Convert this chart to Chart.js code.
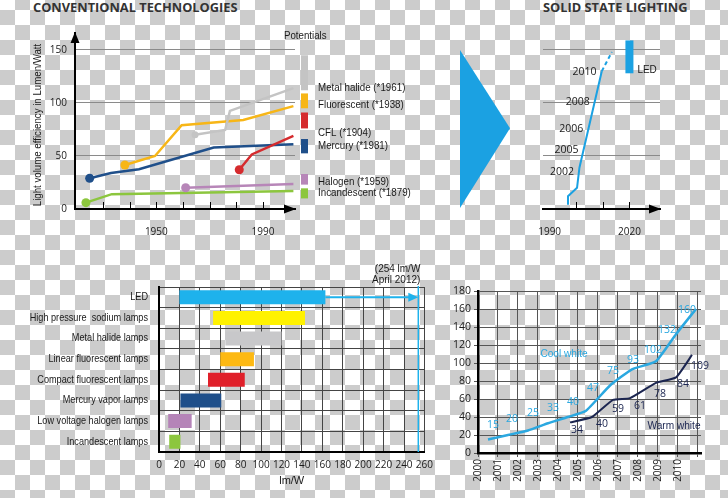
<!DOCTYPE html>
<html>
<head>
<meta charset="utf-8">
<script src="https://cdn.jsdelivr.net/npm/chart.js@4.4.1/dist/chart.umd.min.js"></script>
<style>
  body {
    margin: 0; width: 728px; height: 498px; overflow: hidden; position: relative;
    background: repeating-conic-gradient(#cccccc 0 25%, #ffffff 0 50%) 0 -5px / 30px 30px;
  }
  canvas { position: absolute; }
  .title { position: absolute; top: -1px; font: bold 12.8px/16px 'Open Sans', sans-serif; color: #333; white-space: nowrap; }
  #tri { position: absolute; left: 460px; top: 50px; width: 50px; height: 158px; background: #1ba1e2;
         clip-path: polygon(0 0, 100% 49.5%, 0 100%); }
</style>
</head>
<body>
<div class="title" style="left:33px">CONVENTIONAL TECHNOLOGIES</div>
<div class="title" style="left:543px">SOLID STATE LIGHTING</div>
<div id="tri"></div>
<canvas id="conv" width="420" height="240" style="left:0;top:0"></canvas>
<canvas id="ssl" width="308" height="240" style="left:420px;top:0"></canvas>
<canvas id="lamps" width="440" height="243" style="left:0;top:255px"></canvas>
<canvas id="white" width="288" height="218" style="left:440px;top:280px"></canvas>
<script>
// ---- conventional technologies (top left) ----
const mhYears = [1964.5, 1975.8, 1977.6, 2001.4];
const mhValues = [70, 74.5, 92.5, 114];
const fluYears = [1938.2, 1949.5, 1959.5, 1982.6, 2001.4];
const fluValues = [41.5, 50, 79, 84, 97];
const cflYears = [1981.1, 1985.8, 2001.4];
const cflValues = [37, 51.5, 69];
const merYears = [1925, 1933, 1943.5, 1971.5, 2001.4];
const merValues = [29, 34, 37.5, 58, 61];
const halYears = [1961, 2001.4];
const halValues = [20, 23.5];
const incYears = [1923.6, 1933.3, 2001.4];
const incValues = [6, 14, 17];

const convNames = ["Metal halide (*1961)", "Fluorescent (*1938)", "CFL (*1904)", "Mercury (*1981)", "Halogen (*1959)", "Incandescent (*1879)"];
const potentialLow = [112, 95, 76, 52.5, 23, 10];
const potentialHigh = [145, 109, 91, 66, 33, 19.5];
const convTicks = [0, 50, 100, 150];
const convTickYears = [1930, 1940, 1950, 1960, 1970, 1980, 1990];
const convYearLabels = [1950, 1990];

// ---- solid state lighting (top right) ----
const ledYears = [1996.9, 1996.9, 2000.3, 2001.2, 2009.6, 2013.4];
const ledValues = [4, 12, 20, 39, 130, 148];
const ledMilestones = ["2002", "2005", "2006", "2008", "2010"];
const ledMilestoneValues = [35, 56, 75, 101, 129];
const ledPotentialYear = 2020;
const ledPotential = [128, 159];
const sslTickYears = [2000, 2010, 2020];
const sslYearLabels = [1990, 2020];

// ---- lamp efficiency ranges (bottom left) ----
const lampNames = ["LED", "High pressure  sodium lamps", "Metal halide lamps", "Linear fluorescent lamps",
  "Compact fluorescent lamps", "Mercury vapor lamps", "Low voltage halogen lamps", "Incandescent lamps"];
const lampMin = [20, 53, 65, 60, 48, 21, 9, 10];
const lampMax = [163, 143, 120, 93, 84, 61, 32, 21];
const ledRecord = 254;

// ---- cool / warm white LED (bottom right) ----
const coolYears = [2000.5, 2001.5, 2002.5, 2003.5, 2004.5, 2005.4, 2006.6, 2007.7, 2008.9, 2009.9, 2010.9];
const coolValues = [15, 20, 25, 33, 40, 47, 75, 93, 102, 132, 160];
const warmYears = [2004.6, 2005.7, 2006.75, 2007.6, 2008.9, 2009.9, 2010.7];
const warmValues = [34, 40, 59, 61, 78, 84, 109];

const convColors = ["#c4c4c4", "#f7b617", "#d52b2e", "#1f4f8a", "#b786b8", "#8cc63e"];
const lampColors = ["#1eb2ec", "#fff200", "#c8c8ca", "#fdb913", "#e0202a", "#1f4f8a", "#b584b8", "#8cc63e"];
const blue = "#1ba1e2";
const sans = "'Liberation Sans', Arial, sans-serif";
const open = "'Open Sans', sans-serif";
const ink = "#1a1a1a";

const toPoints = (xs, ys) => xs.map((x, i) => ({ x, y: ys[i] }));
const base = {
  responsive: false, animation: false, events: [],
  plugins: { legend: { display: false }, tooltip: { enabled: false } }
};

// the original uses a condensed face, so squeeze the text horizontally
function squeeze(ctx, text, x, y, align, sx, rot) {
  ctx.save();
  ctx.translate(x, y);
  if (rot) ctx.rotate(rot);
  ctx.scale(sx, 1);
  ctx.textAlign = align;
  ctx.textBaseline = "middle";
  ctx.fillText(text, 0, 0);
  ctx.restore();
}

function arrowHead(ctx, x, y, dir) {
  ctx.save();
  ctx.fillStyle = "#000";
  ctx.beginPath();
  if (dir === "up") { ctx.moveTo(x, y); ctx.lineTo(x - 4.5, y + 11); ctx.lineTo(x + 4.5, y + 11); }
  else { ctx.moveTo(x, y); ctx.lineTo(x - 12, y - 4.5); ctx.lineTo(x - 12, y + 4.5); }
  ctx.fill();
  ctx.restore();
}

function innerTicks(chart, years) {
  const ctx = chart.ctx, xs = chart.scales.x, b = chart.chartArea.bottom;
  ctx.save();
  ctx.strokeStyle = "#000";
  ctx.lineWidth = 1;
  years.forEach(yr => {
    const x = Math.round(xs.getPixelForValue(yr)) + 0.5;
    ctx.beginPath(); ctx.moveTo(x, b); ctx.lineTo(x, b - 7); ctx.stroke();
  });
  ctx.restore();
}

const convSeries = [
  [mhYears, mhValues], [fluYears, fluValues], [cflYears, cflValues],
  [merYears, merValues], [halYears, halValues], [incYears, incValues]
];
// small vertical nudges (px) so the end labels don't collide
const convLabelNudge = [0, -1, -3, 1.5, -2, 2.5];

const convDecor = {
  id: "convDecor",
  afterDraw(chart) {
    const ctx = chart.ctx, a = chart.chartArea, ys = chart.scales.y;
    innerTicks(chart, convTickYears);
    arrowHead(ctx, a.left, a.top - 1, "up");
    arrowHead(ctx, a.right + 1, a.bottom, "right");
    ctx.save();
    ctx.font = "10.5px " + sans;
    convNames.forEach((name, i) => {
      const top = ys.getPixelForValue(potentialHigh[i]);
      const bot = ys.getPixelForValue(potentialLow[i]);
      ctx.fillStyle = convColors[i];
      ctx.fillRect(a.right + 6, top, 7, bot - top);
      const vals = convSeries[i][1];
      ctx.fillStyle = ink;
      squeeze(ctx, name, a.right + 23, ys.getPixelForValue(vals[vals.length - 1]) + convLabelNudge[i], "left", 0.93);
    });
    ctx.font = "10px " + sans;
    squeeze(ctx, "Potentials", a.right - 11, a.top + 3, "left", 0.97);
    ctx.font = "11px " + sans;
    squeeze(ctx, "Light volume efficiency in Lumen/Watt", 38, (a.top + a.bottom) / 2 + 4, "center", 0.88, -Math.PI / 2);
    ctx.restore();
  }
};

new Chart(document.getElementById("conv"), {
  type: "line",
  data: {
    datasets: convSeries.map(([xs, vs], i) => ({
      data: toPoints(xs, vs),
      borderColor: convColors[i],
      backgroundColor: convColors[i],
      borderWidth: 2.5,
      pointRadius: c => c.dataIndex === 0 ? (i === 0 ? 3.5 : 4.5) : 0,
      pointBorderWidth: 0
    }))
  },
  options: {
    ...base,
    layout: { padding: { left: 30, right: 125, top: 33, bottom: 0 } },
    scales: {
      x: {
        type: "linear", min: 1919.5, max: 2002,
        grid: { display: false },
        border: { color: "#000", width: 2 },
        ticks: {
          stepSize: 10, includeBounds: false, autoSkip: false, maxRotation: 0, padding: 9,
          color: ink, font: { family: open, size: 10 },
          callback: v => convYearLabels.includes(v) ? String(v) : ""
        },
        afterFit: s => { s.height = 31; }
      },
      y: {
        min: 0, max: 166,
        grid: { color: "#8a8a8a", lineWidth: 1, drawTicks: false },
        border: { color: "#000", width: 2 },
        afterBuildTicks: s => { s.ticks = convTicks.map(v => ({ value: v })); },
        ticks: { padding: 8, color: ink, font: { family: open, size: 10 } },
        afterFit: s => { s.width = 45; }
      }
    }
  },
  plugins: [convDecor]
});

// ---- solid state lighting ----
const sslDecor = {
  id: "sslDecor",
  afterDraw(chart) {
    const ctx = chart.ctx, a = chart.chartArea, xs = chart.scales.x, ys = chart.scales.y;
    innerTicks(chart, sslTickYears);
    arrowHead(ctx, a.right + 1, a.bottom, "right");
    const px = xs.getPixelForValue(ledPotentialYear);
    const top = ys.getPixelForValue(ledPotential[1]), bot = ys.getPixelForValue(ledPotential[0]);
    ctx.save();
    ctx.fillStyle = blue;
    ctx.fillRect(px - 4, top, 8, bot - top);
    ctx.fillStyle = ink;
    ctx.font = "10.5px " + sans;
    squeeze(ctx, "LED", px + 8, bot - 3, "left", 0.95);
    // year marks along the LED curve
    const pts = chart.getDatasetMeta(0).data;
    ctx.textAlign = "right";
    ctx.textBaseline = "middle";
    ctx.font = "10.5px " + open;
    ledMilestones.forEach((lbl, i) => {
      const y = ys.getPixelForValue(ledMilestoneValues[i]);
      let x = pts[0].x;
      for (let k = 1; k < pts.length; k++) {
        const p = pts[k - 1], q = pts[k];
        if (y <= p.y && y >= q.y) { x = p.x + (q.x - p.x) * (p.y - y) / (p.y - q.y); break; }
      }
      ctx.fillText(lbl, x - 5, y);
    });
    ctx.restore();
  }
};

new Chart(document.getElementById("ssl"), {
  type: "line",
  data: {
    datasets: [{
      data: toPoints(ledYears, ledValues),
      borderColor: blue, borderWidth: 2, pointRadius: 0,
      segment: { borderDash: c => c.p1DataIndex === ledValues.length - 1 ? [4, 3] : undefined }
    }]
  },
  options: {
    ...base,
    layout: { padding: { left: 123, right: 68, top: 33, bottom: 0 } },
    scales: {
      x: {
        type: "linear", min: 1987.5, max: 2031.5,
        grid: { display: false },
        border: { color: "#000", width: 2 },
        ticks: {
          stepSize: 10, includeBounds: false, autoSkip: false, maxRotation: 0, padding: 9,
          color: ink, font: { family: open, size: 10 },
          callback: v => sslYearLabels.includes(v) ? String(v) : ""
        },
        afterFit: s => { s.height = 31; }
      },
      y: {
        min: 0, max: 166,
        grid: { color: "#8a8a8a", lineWidth: 1, drawTicks: false },
        border: { display: false },
        afterBuildTicks: s => { s.ticks = convTicks.slice(1).map(v => ({ value: v })); },
        ticks: { display: false },
        afterFit: s => { s.width = 0; }
      }
    }
  },
  plugins: [sslDecor]
});

// ---- lamp efficiency ranges ----
const lampDecor = {
  id: "lampDecor",
  afterDatasetsDraw(chart) {
    const ctx = chart.ctx, a = chart.chartArea, xs = chart.scales.x, ys = chart.scales.y;
    const bar = chart.getDatasetMeta(0).data[0];
    const rx = xs.getPixelForValue(ledRecord);
    ctx.save();
    ctx.strokeStyle = "#1eb2ec";
    ctx.fillStyle = "#1eb2ec";
    ctx.lineWidth = 1.5;
    ctx.beginPath(); ctx.moveTo(rx, a.top - 1); ctx.lineTo(rx, a.bottom); ctx.stroke();
    ctx.lineWidth = 2;
    ctx.beginPath(); ctx.moveTo(bar.x, bar.y); ctx.lineTo(rx - 9, bar.y); ctx.stroke();
    ctx.beginPath(); ctx.moveTo(rx, bar.y); ctx.lineTo(rx - 10, bar.y - 4.5); ctx.lineTo(rx - 10, bar.y + 4.5); ctx.fill();
    ctx.fillStyle = ink;
    ctx.font = "10.5px " + sans;
    squeeze(ctx, "(" + ledRecord + " lm/W", rx + 2, a.top - 18, "right", 0.95);
    squeeze(ctx, "April 2012)", rx + 2, a.top - 7, "right", 0.95);
    // category names, squeezed like the condensed original
    lampNames.forEach((name, i) => squeeze(ctx, name, a.left - 11, ys.getPixelForValue(i), "right", 0.87));
    ctx.restore();
  }
};

new Chart(document.getElementById("lamps"), {
  type: "bar",
  data: {
    labels: lampNames,
    datasets: [{
      data: lampMin.map((m, i) => [m, lampMax[i]]),
      backgroundColor: lampColors,
      borderWidth: 0, borderSkipped: false,
      categoryPercentage: 1, barPercentage: 0.68
    }]
  },
  options: {
    ...base,
    indexAxis: "y",
    layout: { padding: { left: 0, right: 15, top: 32, bottom: 10 } },
    scales: {
      x: {
        min: 0, max: 260,
        grid: { color: "#444", lineWidth: 1, drawTicks: false },
        border: { color: "#000", width: 2 },
        ticks: { stepSize: 20, padding: 7, maxRotation: 0, autoSkip: false, color: ink, font: { family: open, size: 10 } },
        title: { display: true, text: "lm/W", color: ink, font: { family: sans, size: 11 }, padding: 0 },
        afterFit: s => { s.height = 36; }
      },
      y: {
        grid: { color: "#444", lineWidth: 1, drawTicks: false },
        border: { color: "#000", width: 2 },
        ticks: { display: false },
        afterFit: s => { s.width = 159; }
      }
    }
  },
  plugins: [lampDecor]
});

// ---- cool / warm white ----
// where each value label sits relative to its point (px), as hand-placed in the original
const coolLabelOffset = [[5, -14], [4, -16], [5, -17], [5, -15], [5, -15], [7, -23], [3, -14], [1, -9], [-3, -11], [-9, -4], [-9, 1]];
const warmLabelOffset = [[7, 8], [10, 7], [5, 9], [10, 8], [4, 11], [7, 7], [8, 11]];

const whiteDecor = {
  id: "whiteDecor",
  afterDatasetsDraw(chart) {
    const ctx = chart.ctx, xs = chart.scales.x, ys = chart.scales.y;
    ctx.save();
    ctx.textAlign = "center";
    ctx.textBaseline = "middle";
    ctx.font = "10.5px " + open;
    ctx.fillStyle = "#2ba8e0";
    chart.getDatasetMeta(0).data.forEach((p, i) =>
      ctx.fillText(String(coolValues[i]), p.x + coolLabelOffset[i][0], p.y + coolLabelOffset[i][1]));
    ctx.fillStyle = "#1b2550";
    chart.getDatasetMeta(1).data.forEach((p, i) =>
      ctx.fillText(String(warmValues[i]), p.x + warmLabelOffset[i][0], p.y + warmLabelOffset[i][1]));
    ctx.font = "11px " + sans;
    ctx.fillStyle = "#2ba8e0";
    squeeze(ctx, "Cool white", xs.getPixelForValue(2004.3), ys.getPixelForValue(110), "center", 0.92);
    ctx.fillStyle = "#1b2550";
    squeeze(ctx, "Warm white", xs.getPixelForValue(2009.8), ys.getPixelForValue(30), "center", 0.92);
    ctx.restore();
  }
};

new Chart(document.getElementById("white"), {
  type: "line",
  data: {
    datasets: [
      { data: toPoints(coolYears, coolValues), borderColor: "#2ba8e0", borderWidth: 2.5, pointRadius: 0, tension: 0.15 },
      { data: toPoints(warmYears, warmValues), borderColor: "#1b2550", borderWidth: 2, pointRadius: 0, tension: 0.15 }
    ]
  },
  options: {
    ...base,
    layout: { padding: { left: 0, right: 27, top: 11, bottom: 0 } },
    scales: {
      x: {
        type: "linear", min: 2000, max: 2011.15,
        grid: { color: "#555", lineWidth: 1, tickLength: 4 },
        border: { color: "#000", width: 2.5 },
        ticks: {
          stepSize: 1, includeBounds: false, autoSkip: false, minRotation: 90, maxRotation: 90, padding: 2,
          color: ink, font: { family: open, size: 10 },
          callback: v => v <= 2010 ? String(v) : ""
        },
        afterFit: s => { s.height = 45; }
      },
      y: {
        min: 0, max: 180,
        grid: { color: "#555", lineWidth: 1, tickLength: 4 },
        border: { color: "#000", width: 2.5 },
        ticks: { stepSize: 20, padding: 3, color: ink, font: { family: open, size: 10.5 } },
        afterFit: s => { s.width = 38; }
      }
    }
  },
  plugins: [whiteDecor]
});
</script>
</body>
</html>
